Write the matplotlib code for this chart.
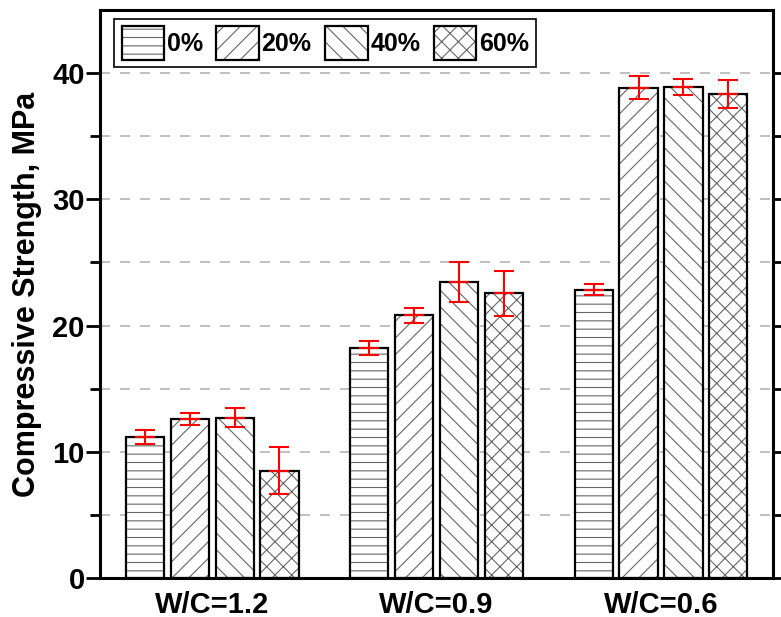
import numpy as np
import matplotlib
matplotlib.use('Agg')
import matplotlib.pyplot as plt
from matplotlib.legend_handler import HandlerTuple

plt.rcParams['font.family'] = ['Liberation Sans', 'DejaVu Sans']
plt.rcParams['font.weight'] = 'bold'
plt.rcParams['hatch.linewidth'] = 0.8

groups = ['W/C=1.2', 'W/C=0.9', 'W/C=0.6']
series = ['0%', '20%', '40%', '60%']
s0 = [11.15, 18.2, 22.85]
s20 = [12.6, 20.8, 38.85]
s40 = [12.7, 23.45, 38.9]
s60 = [8.5, 22.55, 38.35]
e0 = [0.55, 0.55, 0.45]
e20 = [0.45, 0.57, 0.93]
e40 = [0.74, 1.6, 0.6]
e60 = [1.88, 1.77, 1.1]

values = [s0, s20, s40, s60]
errors = [e0, e20, e40, e60]
hatches = ['--', '//', '\\\\', 'xx']

fig = plt.figure(figsize=(7.81, 6.17), dpi=100)
ax = fig.add_axes([0.128, 0.0632, 0.862, 0.9206])

x = np.arange(1, len(groups) + 1)
offsets = [-0.3, -0.1, 0.1, 0.3]
width = 0.17

handles = []
for vals, errs, h, off in zip(values, errors, hatches, offsets):
    # hatch layer in grey, outline layer in black
    hb = ax.bar(x + off, vals, width, color='white', edgecolor='#666666',
                hatch=h, linewidth=0, zorder=2)
    eb = ax.bar(x + off, vals, width, facecolor='none', edgecolor='black',
                linewidth=1.6, zorder=3)
    ax.errorbar(x + off, vals, yerr=errs, fmt='_', color='red', ecolor='red',
                markersize=14, markeredgewidth=1.5, elinewidth=1.5,
                capsize=7, capthick=1.5, zorder=4)
    handles.append((hb[0], eb[0]))

ax.set_xlim(0.5, 3.5)
ax.set_ylim(0, 45)
ax.set_xticks(x)
ax.set_xticklabels(groups, fontsize=21, fontweight='bold')
ax.set_yticks([0, 10, 20, 30, 40])
ax.set_yticks([5, 15, 25, 35], minor=True)
ax.tick_params(axis='y', which='major', labelsize=21, length=10, width=2,
               pad=1, right=True, direction='out')
ax.tick_params(axis='y', which='minor', length=7, width=2, right=True,
               direction='out')
ax.tick_params(axis='x', length=0, pad=9)

ax.set_ylabel('Compressive Strength, MPa', fontsize=22, fontweight='bold',
              labelpad=7)

for sp in ax.spines.values():
    sp.set_linewidth(2.2)

ax.set_axisbelow(True)
for yv in [5, 10, 15, 20, 25, 30, 35, 40]:
    ax.axhline(yv, color='#b5b5b5', linewidth=1.2, linestyle=(0, (6, 6)),
               zorder=0)

leg = ax.legend(handles, series, handler_map={tuple: HandlerTuple(ndivide=1)},
                loc='upper left', bbox_to_anchor=(0.021, 0.985),
                borderaxespad=0, ncol=4, fontsize=18, handlelength=1.7,
                handleheight=1.7, handletextpad=0.1, columnspacing=0.55,
                borderpad=0.3, fancybox=False, framealpha=1,
                edgecolor='black')
leg.get_frame().set_linewidth(1.2)
for t in leg.get_texts():
    t.set_fontweight('bold')

fig.savefig('out.png', dpi=100)
